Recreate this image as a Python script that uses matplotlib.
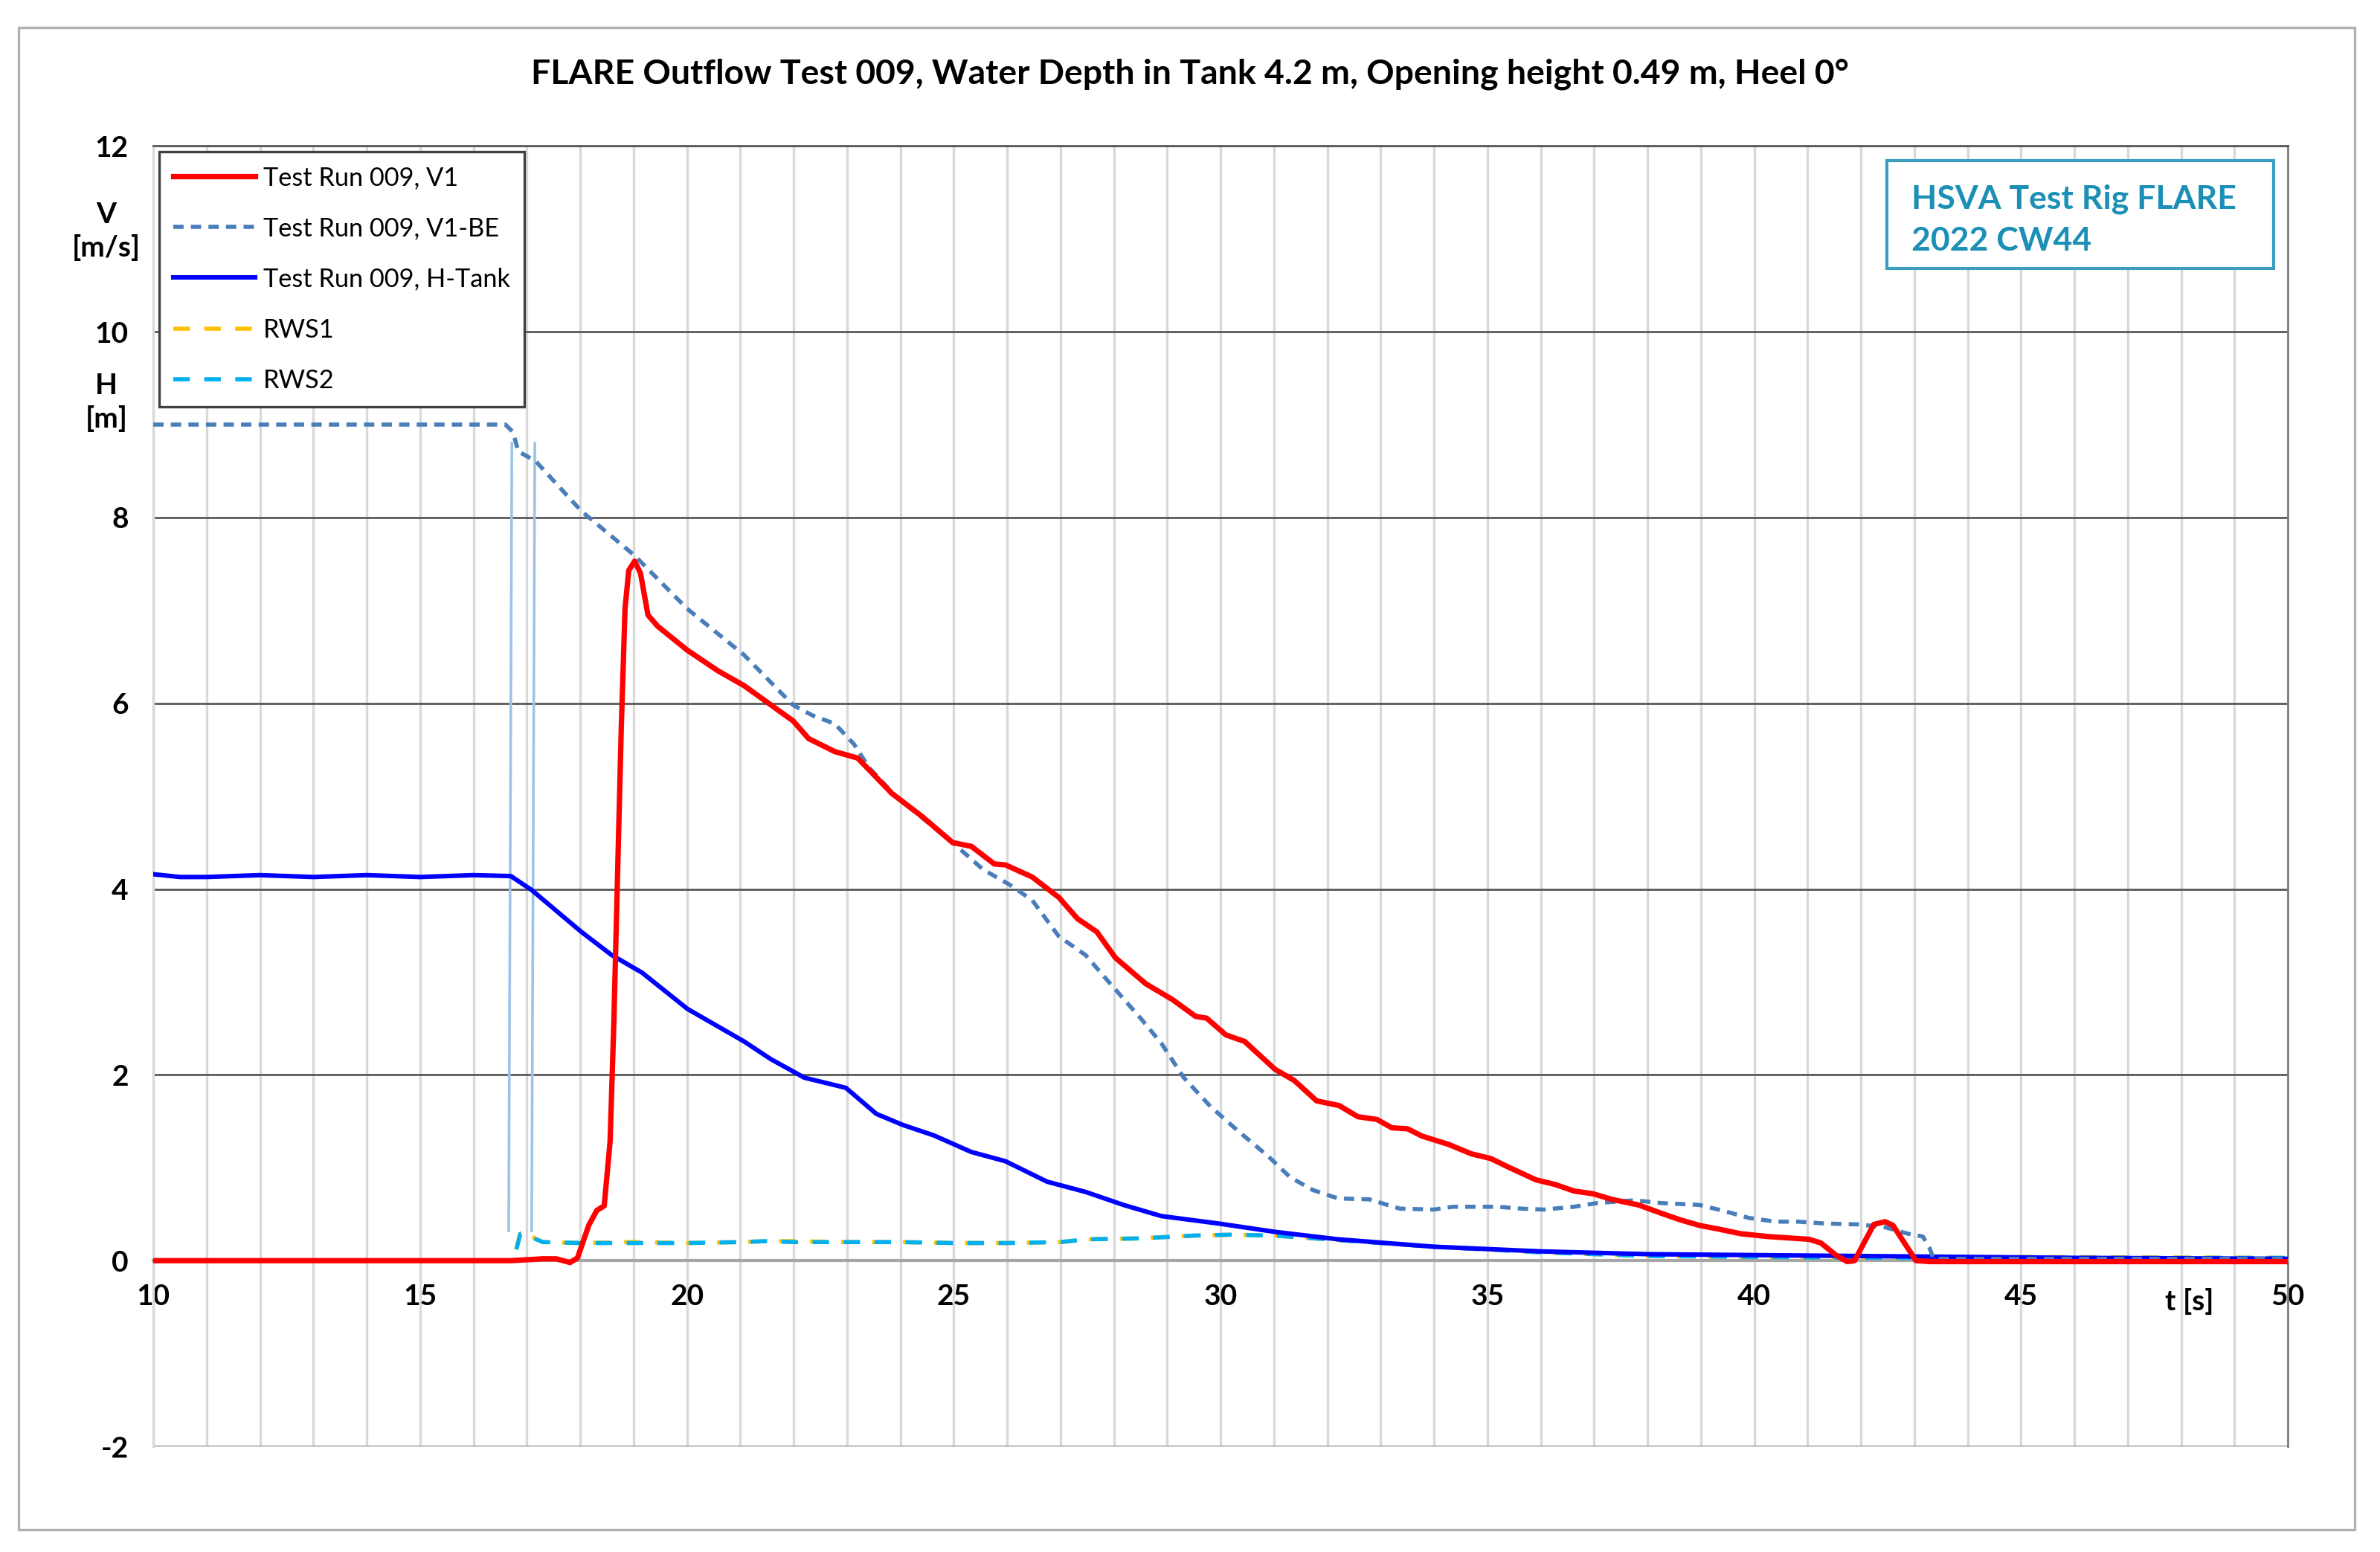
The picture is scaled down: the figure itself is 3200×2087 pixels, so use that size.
import matplotlib
matplotlib.use("Agg")
import matplotlib.pyplot as plt
from matplotlib.patches import Rectangle
from matplotlib.ticker import MultipleLocator, FuncFormatter
import numpy as np

plt.rcParams['font.family'] = ['Lato', 'DejaVu Sans']

# --- data ---
# Test Run 009, V1 (red)
t_v1 = [10, 16.7, 17.3, 17.55, 17.81, 17.95, 18.16, 18.31, 18.45, 18.56, 18.63, 18.7, 18.77,
        18.84, 18.91, 19.02, 19.13, 19.27, 19.45, 20.01, 20.58, 21.07, 21.99, 22.28, 22.77,
        23.2, 23.84, 24.41, 24.98, 25.33, 25.76, 25.97, 26.47, 26.97, 27.32, 27.68, 28.03,
        28.6, 29.1, 29.53, 29.74, 30.1, 30.45, 31.02, 31.38, 31.8, 32.22, 32.57, 32.93,
        33.21, 33.5, 33.78, 34.28, 34.7, 35.06, 35.42, 35.91, 36.27, 36.62, 36.98, 37.33,
        37.83, 38.26, 38.61, 38.97, 39.33, 39.75, 40.25, 41.03, 41.25, 41.53, 41.74, 41.88,
        42.24, 42.45, 42.6, 43.03, 43.3, 50]
v_v1 = [0, 0, 0.02, 0.02, -0.02, 0.03, 0.38, 0.54, 0.59, 1.28, 2.55, 4.15, 5.74,
        7.02, 7.43, 7.53, 7.4, 6.95, 6.83, 6.57, 6.35, 6.19, 5.81, 5.62, 5.48,
        5.41, 5.03, 4.78, 4.50, 4.46, 4.27, 4.26, 4.13, 3.91, 3.68, 3.54, 3.26,
        2.98, 2.81, 2.63, 2.61, 2.43, 2.36, 2.06, 1.94, 1.72, 1.67, 1.55, 1.52,
        1.43, 1.42, 1.34, 1.25, 1.15, 1.1, 1.0, 0.87, 0.82, 0.75, 0.72, 0.66,
        0.6, 0.51, 0.44, 0.38, 0.34, 0.29, 0.26, 0.23, 0.19, 0.06, -0.01, 0.0,
        0.39, 0.42, 0.38, 0.0, -0.01, -0.01]

# Test Run 009, V1-BE (steel blue dashed)
t_be = [10, 16.6, 16.74, 16.84, 17.16, 18.02, 19.02, 20.0, 21.07, 21.99, 22.35, 22.77, 23.13,
        23.41, 23.91, 24.98, 25.55, 26.04, 26.47, 26.97, 27.47, 27.89, 28.53, 28.89, 29.31,
        29.81, 30.3, 30.88, 31.3, 31.73, 32.2, 32.79, 33.07, 33.36, 34.0, 34.35, 35.21,
        35.63, 36.06, 36.62, 37.05, 37.76, 38.26, 38.97, 39.4, 39.9, 40.4, 40.82, 41.32,
        41.96, 42.45, 42.88, 43.16, 43.29, 43.36, 50]
v_be = [9.0, 9.0, 8.92, 8.71, 8.61, 8.07, 7.59, 7.02, 6.52, 5.98, 5.87, 5.78, 5.56,
        5.31, 5.0, 4.5, 4.21, 4.05, 3.88, 3.49, 3.29, 3.01, 2.59, 2.34, 1.97,
        1.66, 1.41, 1.13, 0.9, 0.76, 0.67, 0.66, 0.61, 0.56, 0.55, 0.58, 0.58,
        0.56, 0.55, 0.58, 0.62, 0.65, 0.62, 0.6, 0.54, 0.46, 0.42, 0.42, 0.4,
        0.39, 0.36, 0.29, 0.26, 0.13, 0.02, 0.02]

# Test Run 009, H-Tank (blue)
t_h = [10, 10.5, 11, 12, 13, 14, 15, 16, 16.7, 17.09, 18.02, 18.59, 19.16, 20.01, 21.07,
       21.57, 22.2, 22.98, 23.55, 24.05, 24.62, 25.33, 25.97, 26.75, 27.47, 28.18, 28.89,
       29.96, 31.02, 32.2, 34, 36, 38, 40, 42, 44, 46, 50]
v_h = [4.16, 4.13, 4.13, 4.15, 4.13, 4.15, 4.13, 4.15, 4.14, 3.99, 3.54, 3.29, 3.1, 2.71, 2.36,
       2.17, 1.97, 1.86, 1.58, 1.46, 1.35, 1.17, 1.07, 0.85, 0.74, 0.60, 0.48,
       0.4, 0.31, 0.23, 0.15, 0.1, 0.07, 0.06, 0.05, 0.04, 0.03, 0.02]

# RWS1 / RWS2 (nearly identical)
t_rws = [10, 16.75, 16.88, 17.05, 17.3, 18, 19, 20, 21, 21.5, 22, 23, 24, 25, 26, 27, 27.5,
         28.5, 29.5, 30.2, 31, 32, 33, 34, 35, 36, 37, 38, 40, 42, 45, 50]
v_rws1 = [0, 0, 0.31, 0.27, 0.2, 0.19, 0.2, 0.19, 0.2, 0.21, 0.21, 0.2, 0.2, 0.19, 0.19, 0.2,
          0.23, 0.24, 0.27, 0.28, 0.27, 0.23, 0.19, 0.15, 0.12, 0.09, 0.07, 0.05, 0.04, 0.03,
          0.04, 0.03]
v_rws2 = [0, 0, 0.29, 0.26, 0.2, 0.19, 0.19, 0.19, 0.2, 0.21, 0.2, 0.2, 0.2, 0.19, 0.19, 0.2,
          0.23, 0.24, 0.27, 0.28, 0.27, 0.23, 0.19, 0.15, 0.12, 0.09, 0.07, 0.05, 0.04, 0.03,
          0.03, 0.03]

# thin light blue spikes around the gate opening (no legend entry)
t_spike = [16.66, 16.72, np.nan, 17.09, 17.15]
v_spike = [0.32, 8.8, np.nan, 0.32, 8.8]

title = "FLARE Outflow Test 009, Water Depth in Tank 4.2 m, Opening height 0.49 m, Heel 0°"

fig = plt.figure(figsize=(16, 10.435), dpi=200)
ax = fig.add_axes([0.0644, 0.068, 0.8969, 0.838])

ax.plot(t_spike, v_spike, color='#9dc3e6', lw=1.3, zorder=3, label='_nolegend_')
ax.plot(t_rws, v_rws1, color='#ffc000', lw=2.0, dashes=(4, 3.5), zorder=4, label='RWS1')
rws2, = ax.plot(t_rws, v_rws2, color='#00b0f0', lw=2.0, zorder=4, label='RWS2')
rws2.set_dashes((4, 3.5))
ax.plot(t_h, v_h, color='#0000ff', lw=2.2, zorder=5, label='Test Run 009, H-Tank')
ax.plot(t_be, v_be, color='#4a7ebb', lw=2.0, dashes=(2.5, 1.75), zorder=5, label='Test Run 009, V1-BE')
ax.plot(t_v1, v_v1, color='#ff0000', lw=2.6, zorder=6, label='Test Run 009, V1')

ax.set_xlim(10, 50)
ax.set_ylim(-2, 12)
ax.xaxis.set_major_locator(MultipleLocator(5))
ax.xaxis.set_minor_locator(MultipleLocator(1))
ax.yaxis.set_major_locator(MultipleLocator(2))
intfmt = FuncFormatter(lambda v, pos: "%d" % round(v))
ax.xaxis.set_major_formatter(intfmt)
ax.yaxis.set_major_formatter(intfmt)

ax.xaxis.grid(True, which='both', color='#d9d9d9', lw=1.2, zorder=0)
ax.yaxis.grid(True, which='major', color='#595959', lw=1.0, zorder=1)
for gl, val in zip(ax.get_ygridlines(), ax.get_yticks()):
    if val == 0:
        gl.set_visible(False)
ax.set_axisbelow(True)

ax.spines['bottom'].set_position(('data', 0))
ax.spines['bottom'].set_color('#a6a6a6')
ax.spines['bottom'].set_linewidth(1.5)
ax.spines['top'].set_color('#595959')
ax.spines['top'].set_linewidth(1.0)
ax.spines['left'].set_color('#d9d9d9')
ax.spines['left'].set_linewidth(1.2)
ax.spines['right'].set_color('#7f7f7f')
ax.spines['right'].set_linewidth(1.0)

ax.tick_params(axis='x', which='both', length=0, pad=11, labelsize=14)
ax.tick_params(axis='y', which='both', length=0, pad=12, labelsize=14)
for lab in ax.get_xticklabels() + ax.get_yticklabels():
    lab.set_fontweight('bold')

ax.text(9.12, 11.08, "V\n[m/s]", ha='center', va='center', fontsize=14,
        fontweight='bold', clip_on=False, linespacing=1.3)
ax.text(9.12, 9.24, "H\n[m]", ha='center', va='center', fontsize=14,
        fontweight='bold', clip_on=False, linespacing=1.3)
ax.text(48.15, -0.44, "t [s]", ha='center', va='center', fontsize=14,
        fontweight='bold', clip_on=False)

fig.text(0.5, 1 - 100 / 2087, title, ha='center', va='center', fontsize=16.7, fontweight='bold')

# legend in Excel order
handles, labels = ax.get_legend_handles_labels()
order = ['Test Run 009, V1', 'Test Run 009, V1-BE', 'Test Run 009, H-Tank', 'RWS1', 'RWS2']
hmap = dict(zip(labels, handles))
leg = ax.legend([hmap[k] for k in order], order, loc='upper left',
                bbox_to_anchor=(0.0028, 0.9954), borderaxespad=0, fontsize=12.4,
                handlelength=3.2, labelspacing=1.05, handletextpad=0.3,
                borderpad=0.55, fancybox=False, framealpha=1)
leg.get_frame().set_edgecolor('#404040')
leg.get_frame().set_linewidth(1.2)
leg.set_zorder(10)

# HSVA box
ax.add_patch(Rectangle((0.812, 0.9057), 0.1814, 0.0829, transform=ax.transAxes,
                       facecolor='white', edgecolor='#3a9ec0', lw=1.5, zorder=10))
ax.text(0.8237, 0.943, "HSVA Test Rig FLARE\n2022 CW44", transform=ax.transAxes,
        ha='left', va='center', fontsize=16, fontweight='bold', color='#1b8fb5',
        linespacing=1.5, zorder=11)

# outer chart border
fig.add_artist(Rectangle((0.0078, 0.0144), 0.9816, 0.968, transform=fig.transFigure,
                         fill=False, edgecolor='#b0b0b0', lw=1.2))

fig.savefig("out.png", dpi=200)
